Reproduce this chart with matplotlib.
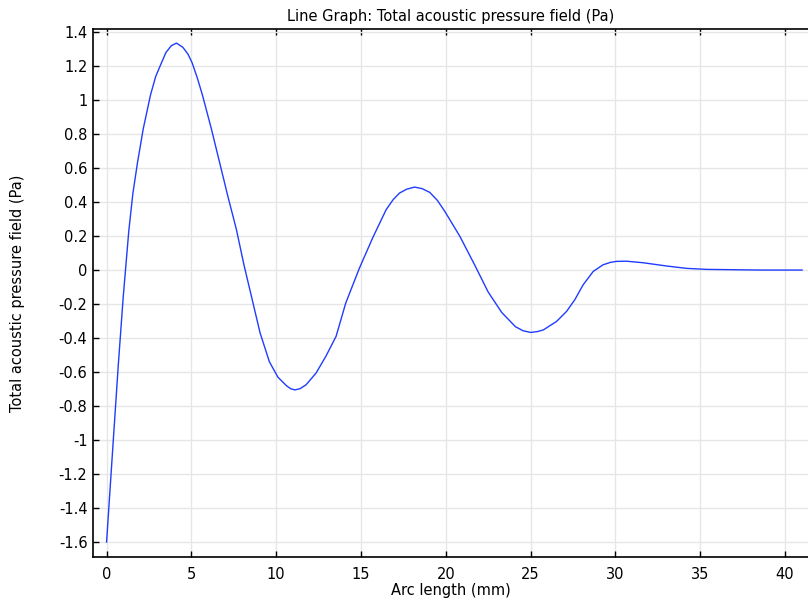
import matplotlib
matplotlib.use("Agg")
import matplotlib.pyplot as plt

arc_length_mm = [0, 0.43, 0.69, 0.98, 1.31, 1.55, 1.82, 2.16, 2.59, 2.9, 3.24, 3.5, 3.82, 4.12,
                 4.5, 4.8, 5.04, 5.35, 5.65, 6.18, 6.67, 7.16, 7.65, 8.1, 8.6, 9.05, 9.6,
                 10.1, 10.6, 10.85, 11.1, 11.4, 11.76, 12.35, 12.94, 13.53, 14.1, 14.9,
                 15.69, 16.48, 16.9, 17.27, 17.7, 18.16, 18.6, 19.05, 19.5, 19.94, 20.83,
                 21.7, 22.5, 23.3, 24.1, 24.55, 25.0, 25.4, 25.75, 26.53, 27.12, 27.6, 28.1,
                 28.69, 29.27, 29.7, 30.06, 30.65, 31.63, 33.0, 34.18, 35.35, 36.9, 38.5, 41.0]
pressure_pa = [-1.60, -0.95, -0.56, -0.16, 0.23, 0.45, 0.63, 0.83, 1.03, 1.14, 1.22, 1.28,
               1.32, 1.335, 1.31, 1.27, 1.22, 1.13, 1.03, 0.83, 0.63, 0.43, 0.24, 0.03,
               -0.18, -0.37, -0.54, -0.63, -0.68, -0.698, -0.705, -0.698, -0.675, -0.606,
               -0.505, -0.39, -0.194, 0.01, 0.19, 0.355, 0.415, 0.453, 0.476, 0.488, 0.479,
               0.457, 0.41, 0.345, 0.198, 0.03, -0.13, -0.25, -0.333, -0.357, -0.367,
               -0.362, -0.352, -0.302, -0.243, -0.175, -0.086, -0.008, 0.031, 0.045, 0.051,
               0.052, 0.043, 0.024, 0.01, 0.004, 0.002, 0.0, 0.0]

x_ticks = [0, 5, 10, 15, 20, 25, 30, 35, 40]
y_ticks = [1.4, 1.2, 1, 0.8, 0.6, 0.4, 0.2, 0, -0.2, -0.4, -0.6, -0.8, -1, -1.2, -1.4, -1.6]

plt.rcParams['font.family'] = ['DejaVu Sans']
fig = plt.figure(figsize=(8.08, 6.0), dpi=100)
ax = fig.add_axes([93 / 808, 1 - 557 / 600, 1 - 93 / 808, (557 - 29) / 600])

ax.plot(arc_length_mm, pressure_pa, color='#1f3cff', linewidth=1.0)

ax.set_xlim(-0.8, 41.35)
ax.set_ylim(-1.688, 1.418)
ax.set_xticks(x_ticks)
ax.set_yticks(y_ticks)
ax.set_xticklabels([str(t) for t in x_ticks])
ax.set_yticklabels([('%g' % t) for t in y_ticks])

ax.grid(True, color='#e6e6e6', linewidth=1.0)
ax.set_axisbelow(True)

ax.spines['right'].set_visible(False)
for s in ['left', 'top', 'bottom']:
    ax.spines[s].set_linewidth(1.2)
    ax.spines[s].set_color('black')

ax.tick_params(axis='both', direction='in', length=4.5, width=1.0, labelsize=10.5,
               top=True, right=False)
ax.tick_params(axis='x', pad=7)
ax.tick_params(axis='y', pad=4)

ax.set_title('Line Graph: Total acoustic pressure field (Pa)', fontsize=10.5, pad=6)
ax.set_xlabel('Arc length (mm)', fontsize=10.5, labelpad=1)
ax.set_ylabel('Total acoustic pressure field (Pa)', fontsize=10.5, labelpad=24)

fig.savefig('out.png', dpi=100)
